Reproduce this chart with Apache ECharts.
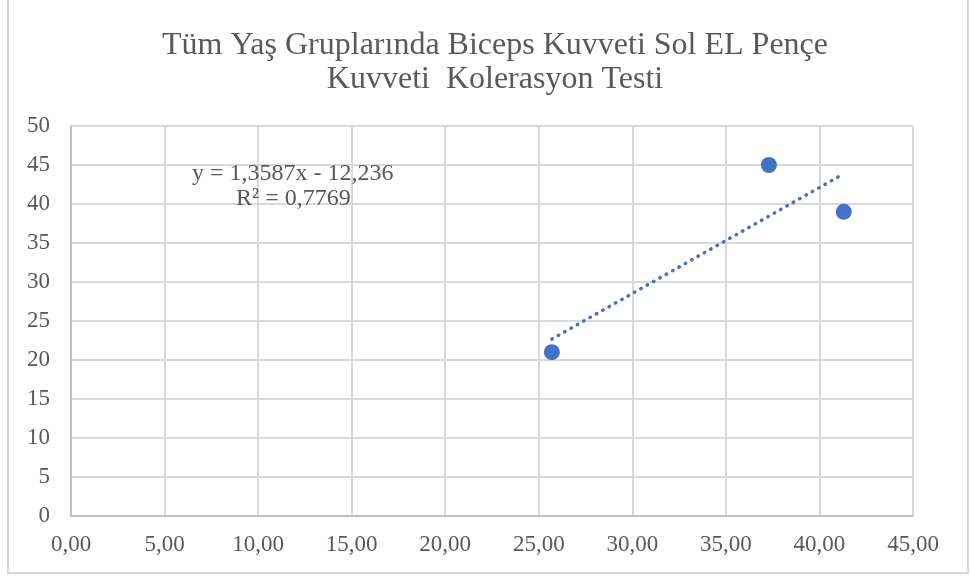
<!DOCTYPE html>
<html>
<head>
<meta charset="utf-8">
<script src="https://cdn.jsdelivr.net/npm/echarts@6/dist/echarts.min.js"></script>
<style>html,body{margin:0;padding:0;background:#fff;}#c{width:970px;height:579px;}</style>
</head>
<body>
<div id="c"></div>
<script>
var titleLines = ['Tüm Yaş Gruplarında Biceps Kuvveti Sol EL Pençe', 'Kuvveti  Kolerasyon Testi'];
var xValues = [25.7, 37.3, 41.3];
var yValues = [21, 45, 39];
var slope = 1.3587;
var intercept = -12.236;
var trendX = [25.7, 41.1];
var equationText = 'y = 1,3587x - 12,236';
var r2Text = 'R² = 0,7769';
var xTicks = [0, 5, 10, 15, 20, 25, 30, 35, 40, 45];
var yTicks = [0, 5, 10, 15, 20, 25, 30, 35, 40, 45, 50];

var points = xValues.map(function (x, i) { return [x, yValues[i]]; });
var trend = trendX.map(function (x) { return [x, slope * x + intercept]; });

var chart = echarts.init(document.getElementById('c'));
var font = 'Liberation Serif';
var txt = '#595959';
chart.setOption({
  animation: false,
  backgroundColor: '#fff',
  title: {
    text: titleLines.join('\n'),
    left: 490, top: 24, textAlign: 'center',
    textStyle: { fontFamily: font, fontSize: 32, fontWeight: 'normal', color: txt, lineHeight: 34 }
  },
  grid: { left: 71, right: 57, top: 126, bottom: 63 },
  xAxis: {
    type: 'value', min: 0, max: 45, interval: 5,
    axisLine: { show: true, lineStyle: { color: '#bfbfbf', width: 2 } },
    axisTick: { show: false },
    splitLine: { show: true, lineStyle: { color: '#d9d9d9', width: 2 } },
    axisLabel: { margin: 17, fontFamily: font, fontSize: 23, color: txt,
      formatter: function (v) { return v.toFixed(2).replace('.', ','); } }
  },
  yAxis: {
    type: 'value', min: 0, max: 50, interval: 5,
    axisLine: { show: true, lineStyle: { color: '#bfbfbf', width: 2 } },
    axisTick: { show: false },
    splitLine: { show: true, lineStyle: { color: '#d9d9d9', width: 2 } },
    axisLabel: { margin: 21, fontFamily: font, fontSize: 23, color: txt }
  },
  series: [
    {
      type: 'line', data: trend, symbol: 'none', silent: true, z: 1,
      lineStyle: { color: '#4472C4', width: 3.5, type: [0.5, 6.8], cap: 'round' }
    },
    {
      type: 'scatter', data: points, symbolSize: 16, z: 3,
      itemStyle: { color: '#4472C4', opacity: 1 }
    }
  ],
  graphic: [
    { type: 'polyline', z: 100, shape: { points: [[8, 0], [8, 573], [968, 573], [968, 0]] },
      style: { stroke: '#d9d9d9', lineWidth: 2, fill: null } },
    { type: 'text', z: 100, left: 192, top: 162, style: { text: equationText, font: '24px "Liberation Serif"', fill: txt } },
    { type: 'text', z: 100, left: 236, top: 187, style: { text: r2Text, font: '24px "Liberation Serif"', fill: txt } }
  ]
});
</script>
</body>
</html>
